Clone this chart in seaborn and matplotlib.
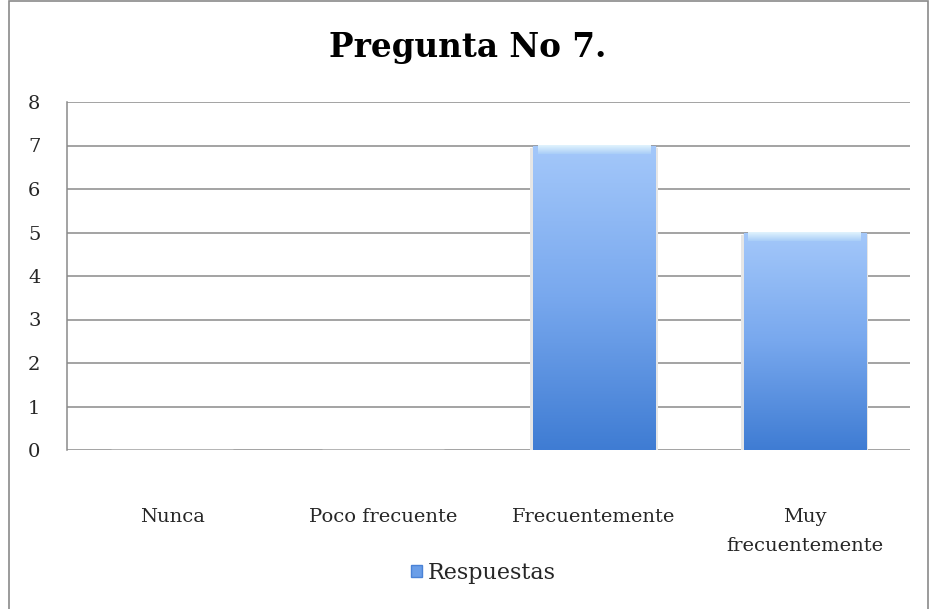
import numpy as np
import pandas as pd
import seaborn as sns
import matplotlib.pyplot as plt
from matplotlib.colors import LinearSegmentedColormap
from matplotlib.patches import Rectangle

# data
categorias = ['Nunca', 'Poco frecuente', 'Frecuentemente', 'Muy\nfrecuentemente']
respuestas = [0, 0, 7, 5]

df = pd.DataFrame({'categoria': categorias, 'Respuestas': respuestas})

sns.set_theme(style="white")
plt.rcParams['font.family'] = ['DejaVu Serif']

fig = plt.figure(figsize=(9.35, 6.09), dpi=100)
ax = fig.add_axes([67 / 935, 1 - 450 / 609, 843 / 935, 348 / 609])

sns.barplot(data=df, x='categoria', y='Respuestas', color='#6a9ee8',
            width=0.58, ax=ax)

# gradient fill for the bars, light top to darker bottom
cmap = LinearSegmentedColormap.from_list('bar', ['#3f7cd3', '#78a8ee', '#a4c8fa'])
grad = np.linspace(0, 1, 256).reshape(-1, 1)
cap = LinearSegmentedColormap.from_list('cap', ['#a8cdf8', '#e2f4fd'])
for p in ax.patches:
    h = p.get_height()
    if h <= 0:
        continue
    x0, w = p.get_x(), p.get_width()
    # soft shadow behind the bar
    ax.add_patch(Rectangle((x0 - 0.012, 0), w + 0.024, h - 0.05,
                           facecolor='#e6e6e6', edgecolor='none', zorder=2))
    im = ax.imshow(grad, cmap=cmap, origin='lower', aspect='auto',
                   extent=[x0, x0 + w, 0, h], zorder=3)
    im.set_clip_path(p)
    p.set_edgecolor('#4f78b8')
    p.set_linewidth(0.9)
    # light bevel on top
    ax.imshow(grad, cmap=cap, origin='lower', aspect='auto',
              extent=[x0 + w * 0.04, x0 + w * 0.96, h - 0.2, h - 0.01], zorder=4)

ax.set_xlim(-0.5, 3.5)
ax.set_ylim(0, 8)
ax.set_yticks(range(0, 9))
ax.yaxis.grid(True, color='#8a8a8a', linewidth=1.1)
ax.set_axisbelow(True)
for s in ['top', 'right', 'bottom']:
    ax.spines[s].set_visible(False)
ax.spines['left'].set_color('#8a8a8a')
ax.spines['left'].set_linewidth(1.1)
ax.tick_params(axis='y', length=0, pad=28, labelsize=14)
ax.tick_params(axis='x', length=0, pad=42, labelsize=14)
for t in ax.get_yticklabels():
    t.set_horizontalalignment('left')
for t in ax.get_xticklabels():
    t.set_linespacing(1.75)
ax.set_xlabel('')
ax.set_ylabel('')

fig.text(0.5, 1 - 48 / 609, 'Pregunta No 7.', ha='center', va='center',
         fontsize=23.5, fontweight='bold', color='black')

handle = Rectangle((0, 0), 1, 1, facecolor='#6a9ee8', edgecolor='#4a82d6')
fig.legend([handle], ['Respuestas'], loc='center', bbox_to_anchor=(483 / 935, 1 - 573 / 609),
           frameon=False, fontsize=16, handlelength=0.5, handleheight=0.5,
           handletextpad=0.25)

# outer chart frame
fig.patches.append(Rectangle((9 / 935, -0.01), 919 / 935, 1 - 1 / 609 + 0.01,
                             transform=fig.transFigure, fill=False,
                             edgecolor='#8a8a8a', linewidth=1.2))

plt.savefig('out.png', dpi=100)
